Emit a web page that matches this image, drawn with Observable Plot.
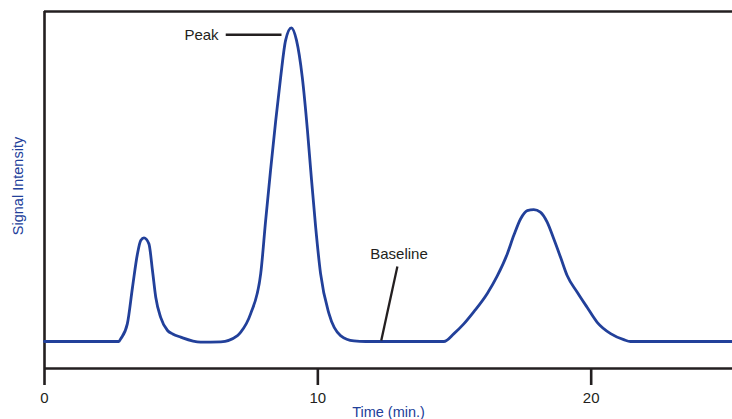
<!DOCTYPE html>
<html>
<head>
<meta charset="utf-8">
<script src="https://cdn.jsdelivr.net/npm/d3@7"></script>
<script src="https://cdn.jsdelivr.net/npm/@observablehq/plot@0.6"></script>
<style>
  html, body { margin: 0; padding: 0; background: #fff; }
  #chart svg { display: block; }
</style>
</head>
<body>
<div id="chart"></div>
<script>
// Chromatogram: time (min) and signal (relative, tallest peak = 100)
const times  = [0, 2.72, 2.79, 3.03, 3.22, 3.40, 3.52, 3.64, 3.82, 3.95, 4.07, 4.25, 4.50, 4.69, 4.98, 5.71, 6.45, 7.06, 7.18, 7.54, 7.91, 8.09, 8.27, 8.46, 8.64, 8.82, 9.03, 9.22, 9.43, 9.62, 9.74, 9.92, 10.10, 10.41, 10.83, 11.32, 11.75, 14.61, 14.98, 15.34, 15.71, 16.20, 16.56, 16.93, 17.17, 17.42, 17.66, 17.90, 18.14, 18.39, 18.63, 18.88, 19.12, 19.49, 19.85, 20.22, 20.71, 21.19, 21.44, 25.17];
const signal = [0, 0, 0.9, 5.6, 17.3, 27.9, 32.2, 33.0, 31.1, 22.6, 14.1, 7.7, 3.5, 2.4, 1.4, -0.2, -0.1, 1.9, 3.0, 8.8, 21.6, 38.5, 54.5, 70.4, 84.2, 95.9, 99.9, 95.9, 84.2, 67.2, 54.5, 36.4, 21.6, 8.8, 1.9, 0.2, 0, 0, 2.5, 5.6, 9.5, 15.3, 20.8, 27.9, 33.8, 39.1, 41.7, 42.0, 41.2, 38.0, 32.7, 26.8, 21.0, 15.7, 10.9, 6.1, 2.5, 0.6, 0, 0];

const xTicks = [0, 10, 20];
const xDomain = [0, 25.17];
const yDomain = [-8.6, 105.1];

const xLabel = "Time (min.)";
const yLabel = "Signal Intensity";

// Annotations
const peakLabel = ["Peak"];
const peakLabelPos = [{t: 6.37, v: 97.5}];
const peakLeader = [{t1: 6.63, t2: 8.67, v: 97.7}];
const baseLabel = ["Baseline"];
const baseLabelPos = [{t: 12.97, v: 27.7}];
const baseLeader = [{t1: 12.32, v1: 0.3, t2: 12.91, v2: 23.9}];

const data = times.map((t, i) => ({t, v: signal[i]}));

const ink = "#231f20";
const blue = "#22409a";
const font = "Liberation Sans, Arial, Helvetica, sans-serif";

const chart = Plot.plot({
  width: 732,
  height: 419,
  marginLeft: 44,
  marginRight: 0,
  marginTop: 11,
  marginBottom: 51,
  style: {fontFamily: font, background: "#fff", overflow: "visible"},
  x: {domain: xDomain},
  y: {domain: yDomain, axis: null},
  marks: [
    // frame lines (top, left, bottom)
    Plot.ruleY([yDomain[1]], {stroke: ink, strokeWidth: 2.5}),
    Plot.ruleX([0], {stroke: ink, strokeWidth: 2.6}),
    Plot.ruleY([yDomain[0]], {stroke: ink, strokeWidth: 2.5}),
    Plot.axisX({ticks: xTicks, tickSize: 17, tickPadding: 7, label: null, fontSize: 15, color: ink, strokeWidth: 2.6, tickFormat: d => String(d)}),
    // signal
    Plot.line(data, {x: "t", y: "v", stroke: blue, strokeWidth: 2.8, curve: "monotone-x", strokeLinejoin: "round"}),
    // Peak annotation
    Plot.link(peakLeader, {x1: "t1", x2: "t2", y1: "v", y2: "v", stroke: ink, strokeWidth: 2.5}),
    Plot.text(peakLabel, {x: () => peakLabelPos[0].t, y: () => peakLabelPos[0].v, text: d => d, textAnchor: "end", lineAnchor: "middle", fontSize: 15, fill: ink}),
    // Baseline annotation
    Plot.link(baseLeader, {x1: "t1", y1: "v1", x2: "t2", y2: "v2", stroke: ink, strokeWidth: 2.3}),
    Plot.text(baseLabel, {x: () => baseLabelPos[0].t, y: () => baseLabelPos[0].v, text: d => d, textAnchor: "middle", lineAnchor: "middle", fontSize: 15, fill: ink}),
    // axis titles
    Plot.text([xLabel], {frameAnchor: "bottom", dy: 48, lineAnchor: "bottom", text: d => d, fontSize: 14.5, fill: blue}),
    Plot.text([yLabel], {frameAnchor: "left", dx: -26, dy: -4, rotate: -90, textAnchor: "middle", lineAnchor: "middle", text: d => d, fontSize: 14.5, fill: blue})
  ]
});

document.getElementById("chart").appendChild(chart);
</script>
</body>
</html>
